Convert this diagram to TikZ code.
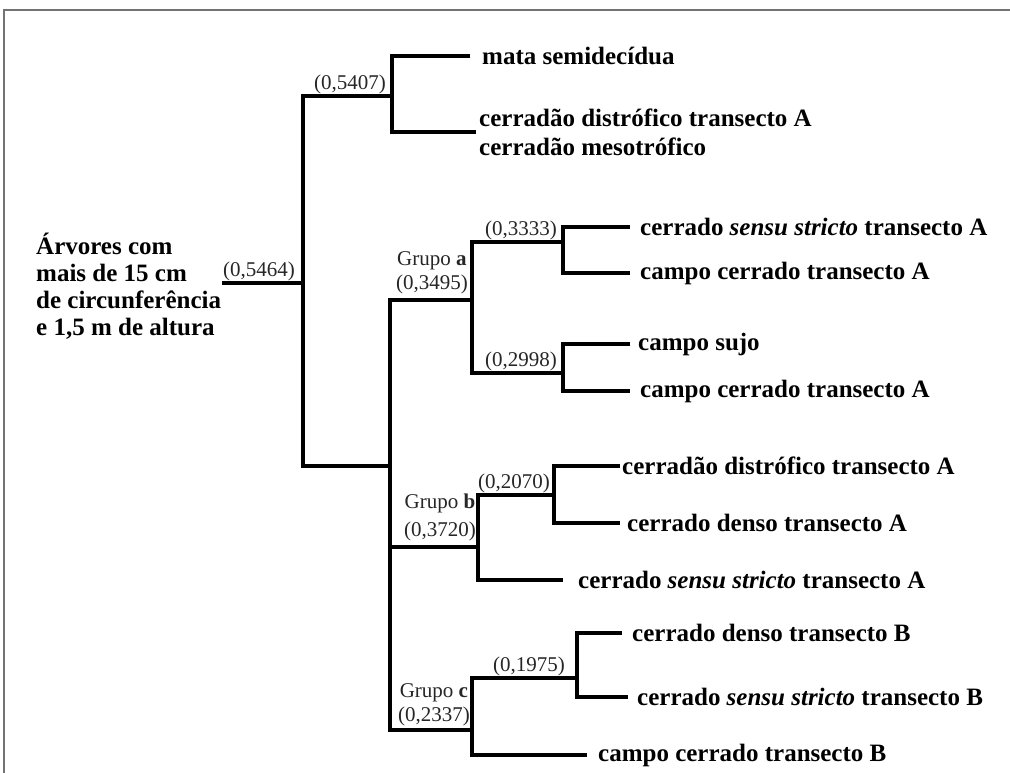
\documentclass[tikz,border=0pt]{standalone}
\usepackage{fontspec}
\setmainfont{Liberation Serif}
\usepackage{tikz}
\usetikzlibrary{positioning}

\begin{document}
\begin{tikzpicture}[x=1pt,y=-1pt,
  ramo/.style={line width=3.2pt,line join=miter},
  leaf/.style={anchor=west,inner xsep=10pt,inner ysep=0pt,align=left,
    font=\fontsize{25}{29}\selectfont\bfseries},
  val/.style={anchor=south east,inner xsep=6pt,inner ysep=2pt,text=black!85,
    font=\fontsize{21}{24}\selectfont},
  grp/.style={val,align=center,inner xsep=4pt,inner ysep=6pt}]
\useasboundingbox (0,0) rectangle (1010,773);
\draw[black!55,line width=1.2pt] (1010,10) -- (4,10) -- (4,773);

\node[leaf,inner xsep=0pt,font=\fontsize{25}{27}\selectfont\bfseries] (raiz) at (36,286)
  {Árvores com\\mais de 15 cm\\de circunferência\\e 1,5 m de altura};

\coordinate (r0) at (222,283);
\coordinate (r) at (303,283);
\coordinate (t) at (392,96);
\coordinate (b) at (390,466);
\coordinate (ga) at (472,300);
\coordinate (a1) at (563,242);
\coordinate (a2) at (563,373);
\coordinate (gb) at (478,547);
\coordinate (b1) at (554,495);
\coordinate (gc) at (472,730);
\coordinate (c1) at (577,678);

\node[leaf,inner xsep=12pt] (mata) at (470,56) {mata semidecídua};
\node[leaf,inner xsep=3pt] (cdi) at (476,132) {cerradão distrófico transecto A\\cerradão mesotrófico};
\node[leaf] (ssa) at (630,227) {cerrado \textit{sensu stricto} transecto A};
\node[leaf] (cca1) at (630,273) {campo cerrado transecto A};
\node[leaf,inner xsep=8pt] (sujo) at (630,344) {campo sujo};
\node[leaf] (cca2) at (630,391) {campo cerrado transecto A};
\node[leaf,inner xsep=2pt] (cdib) at (620,466) {cerradão distrófico transecto A};
\node[leaf,inner xsep=7pt] (cda) at (620,523) {cerrado denso transecto A};
\node[leaf,inner xsep=15pt] (ssa2) at (563,580) {cerrado \textit{sensu stricto} transecto A};
\node[leaf] (cdb) at (622,633) {cerrado denso transecto B};
\node[leaf,inner xsep=9pt] (ssb) at (628,697) {cerrado \textit{sensu stricto} transecto B};
\node[leaf,inner xsep=11pt] (ccb) at (587,755) {campo cerrado transecto B};

\draw[ramo] (r0) -- (r);
\draw[ramo] (t) -- (r |- t) -- (r |- b) -- (b);
\draw[ramo] (mata.west) -- (t |- mata.west) -- (t |- cdi.west) -- (cdi.west);
\draw[ramo] (ga) -- (b |- ga) -- (b |- gc) -- (gc);
\draw[ramo] (b |- gb) -- (gb);
\draw[ramo] (a1) -- (ga |- a1) -- (ga |- a2) -- (a2);
\draw[ramo] (ssa.west) -- (a1 |- ssa.west) -- (a1 |- cca1.west) -- (cca1.west);
\draw[ramo] (sujo.west) -- (a2 |- sujo.west) -- (a2 |- cca2.west) -- (cca2.west);
\draw[ramo] (b1) -- (gb |- b1) -- (gb |- ssa2.west) -- (ssa2.west);
\draw[ramo] (cdib.west) -- (b1 |- cdib.west) -- (b1 |- cda.west) -- (cda.west);
\draw[ramo] (c1) -- (gc |- c1) -- (gc |- ccb.west) -- (ccb.west);
\draw[ramo] (cdb.west) -- (c1 |- cdb.west) -- (c1 |- ssb.west) -- (ssb.west);

\node[val,inner xsep=8pt] at (r) {(0,5464)};
\node[val] at (t) {(0,5407)};
\node[val] at (a1) {(0,3333)};
\node[val] at (a2) {(0,2998)};
\node[val,inner xsep=4pt] at (b1) {(0,2070)};
\node[val,inner xsep=12pt] at (c1) {(0,1975)};
\node[grp] at (ga) {Grupo \textbf{a}\\(0,3495)};
\node[grp,font=\fontsize{21}{28}\selectfont,inner xsep=2pt] at (gb) {Grupo \textbf{b}\\(0,3720)};
\node[grp,inner ysep=4pt,inner xsep=2pt] at (gc) {Grupo \textbf{c}\\(0,2337)};
\end{tikzpicture}
\end{document}
